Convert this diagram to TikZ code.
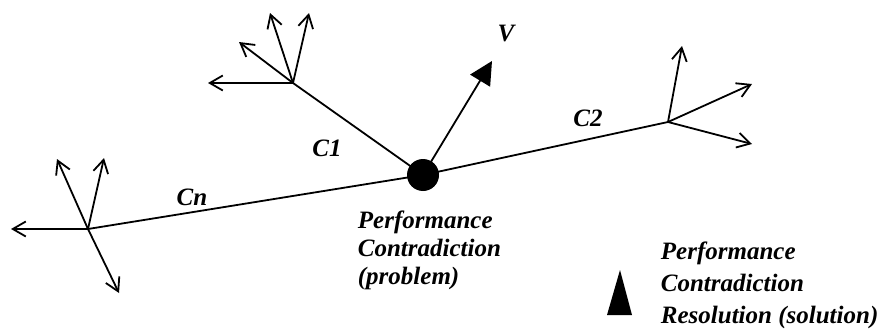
\documentclass[tikz,border=0pt]{standalone}
\usepackage{fontspec}
\setmainfont{Liberation Serif}
\usetikzlibrary{arrows.meta}
\begin{document}
\begin{tikzpicture}[x=1pt,y=-1pt,
  line width=1.8pt,
  vec/.style={-{Straight Barb[length=13pt,width=15pt,line width=1.8pt]}},
  lab/.style={font=\bfseries\itshape\fontsize{25}{28}\selectfont, inner sep=0pt},
  txt/.style={lab, align=left, anchor=north west}]
\useasboundingbox (0,0) rectangle (894,332);
% hubs
\node[circle, fill=black, minimum size=32pt, inner sep=0pt] (dot) at (423,175) {};
\coordinate (h1) at (293,83);
\coordinate (h2) at (668,122);
\coordinate (hn) at (88,229);
% main lines
\draw (h1) -- (dot.center);
\draw (dot.center) -- (h2);
\draw (hn) -- (dot.center);
% C1 arrows
\coordinate (a11) at (208,83);
\coordinate (a12) at (239,42);
\coordinate (a13) at (270,13);
\coordinate (a14) at (309,13);
\draw[vec] (h1) -- (a11);
\draw[vec] (h1) -- (a12);
\draw[vec] (h1) -- (a13);
\draw[vec] (h1) -- (a14);
% C2 arrows
\coordinate (a21) at (682,46);
\coordinate (a22) at (752,84);
\coordinate (a23) at (752,144);
\draw[vec] (h2) -- (a21);
\draw[vec] (h2) -- (a22);
\draw[vec] (h2) -- (a23);
% Cn arrows
\coordinate (an1) at (11,229);
\coordinate (an2) at (57,159);
\coordinate (an3) at (104,158);
\coordinate (an4) at (119,293);
\draw[vec] (hn) -- (an1);
\draw[vec] (hn) -- (an2);
\draw[vec] (hn) -- (an3);
\draw[vec] (hn) -- (an4);
% V arrow
\coordinate (vtip) at (492,61);
\draw[-{Triangle[length=23pt,width=23pt]}] (dot.center) -- (vtip);
% labels
\node[lab] (lv) at (506,34) {V};
\node[lab] (l1) at (327,148) {C1};
\node[lab] (l2) at (588,118) {C2};
\node[lab] (ln) at (192,197) {Cn};
\node[txt] (prob) at (357,209.5) {Performance\\Contradiction\\(problem)};
% legend
\coordinate (t1) at (607,315);
\coordinate (t2) at (620,270);
\coordinate (t3) at (632,315);
\fill (t1) -- (t2) -- (t3) -- cycle;
\node[txt, font=\bfseries\itshape\fontsize{25}{32}\selectfont] (sol) at (660,240.5) {Performance\\Contradiction\\Resolution (solution)};
\end{tikzpicture}
\end{document}
